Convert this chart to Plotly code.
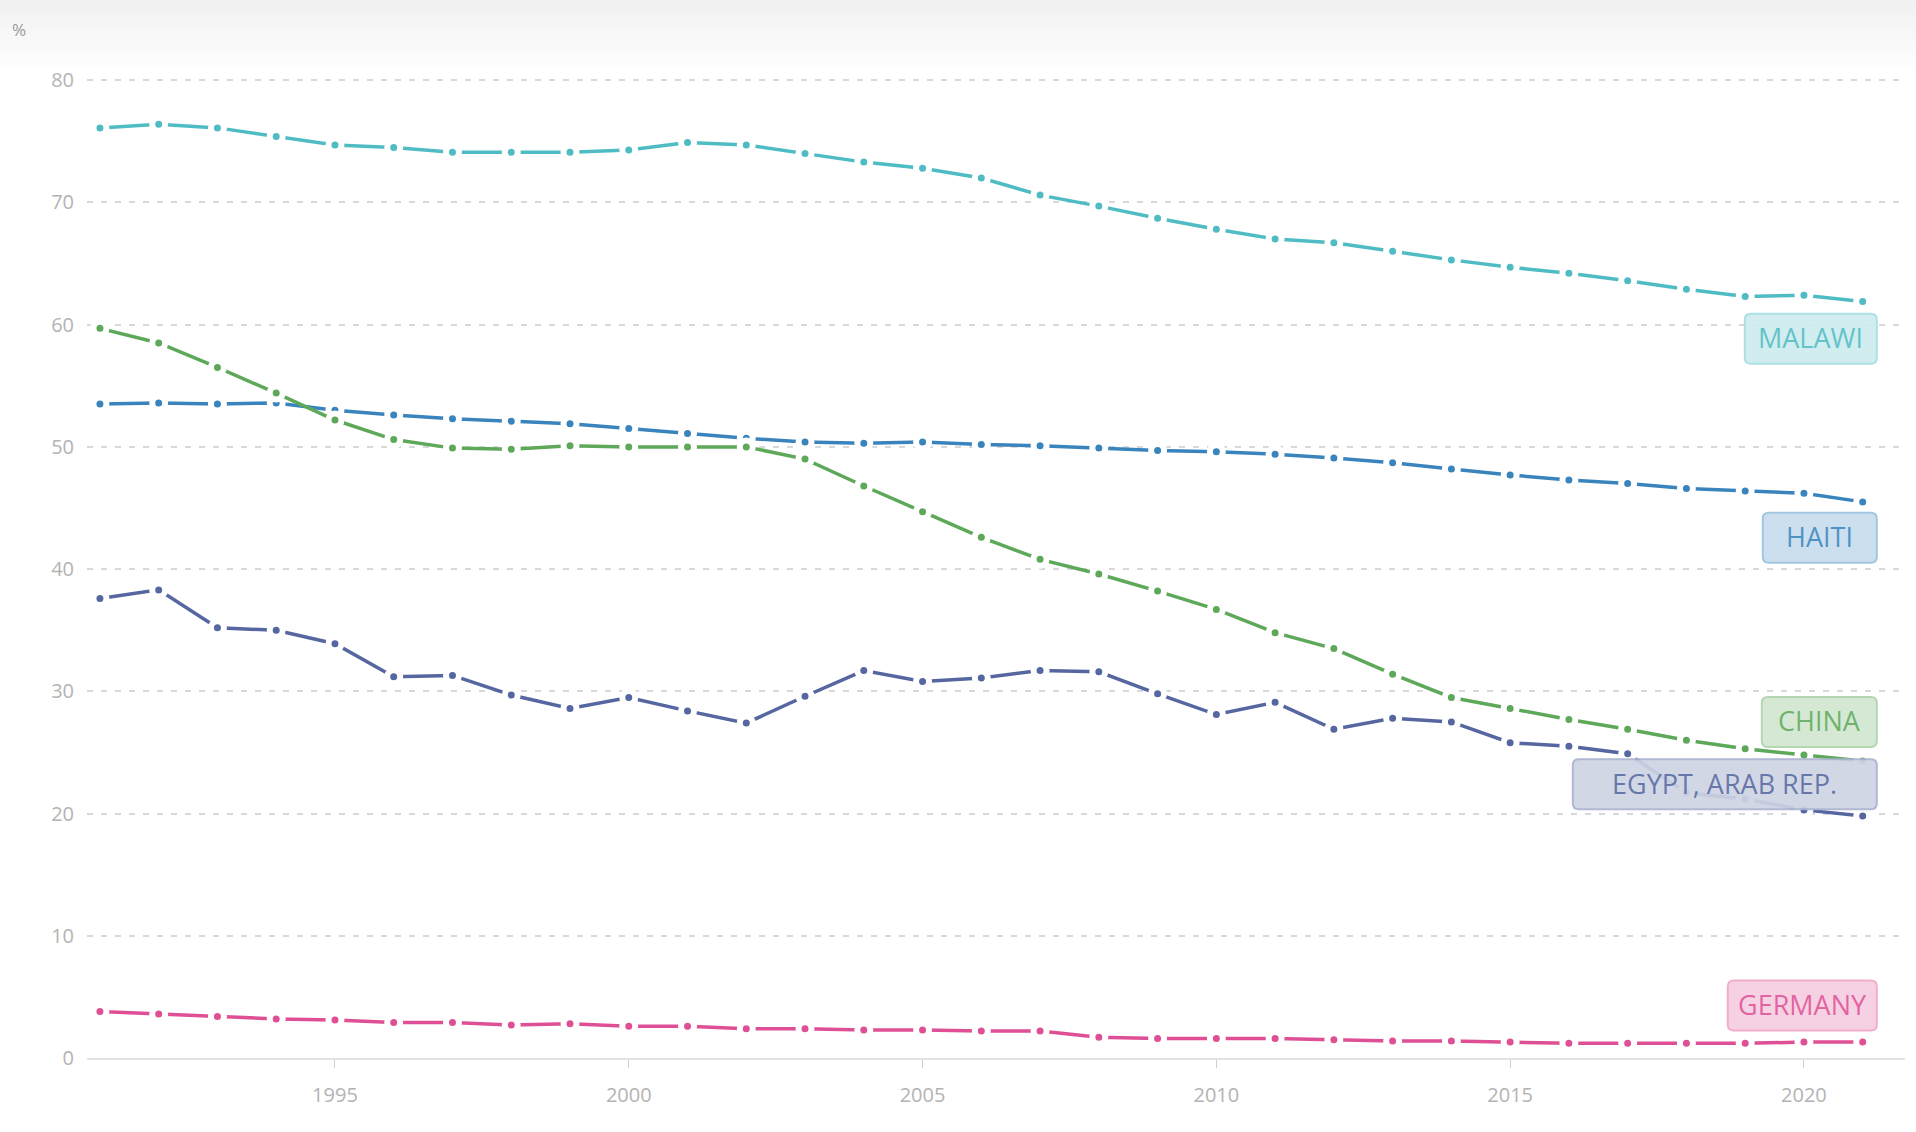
import plotly.graph_objects as go

years = list(range(1991, 2022))

malawi = [76.1, 76.4, 76.1, 75.4, 74.7, 74.5, 74.1, 74.1, 74.1, 74.3, 74.9, 74.7, 74.0, 73.3, 72.8,
          72.0, 70.6, 69.7, 68.7, 67.8, 67.0, 66.7, 66.0, 65.3, 64.7, 64.2, 63.6, 62.9, 62.3, 62.4, 61.9]
haiti = [53.5, 53.6, 53.5, 53.6, 53.0, 52.6, 52.3, 52.1, 51.9, 51.5, 51.1, 50.7, 50.4, 50.3, 50.4,
         50.2, 50.1, 49.9, 49.7, 49.6, 49.4, 49.1, 48.7, 48.2, 47.7, 47.3, 47.0, 46.6, 46.4, 46.2, 45.5]
china = [59.7, 58.5, 56.5, 54.4, 52.2, 50.6, 49.9, 49.8, 50.1, 50.0, 50.0, 50.0, 49.0, 46.8, 44.7,
         42.6, 40.8, 39.6, 38.2, 36.7, 34.8, 33.5, 31.4, 29.5, 28.6, 27.7, 26.9, 26.0, 25.3, 24.8, 24.3]
egypt = [37.6, 38.3, 35.2, 35.0, 33.9, 31.2, 31.3, 29.7, 28.6, 29.5, 28.4, 27.4, 29.6, 31.7, 30.8,
         31.1, 31.7, 31.6, 29.8, 28.1, 29.1, 26.9, 27.8, 27.5, 25.8, 25.5, 24.9, 21.7, 21.2, 20.3, 19.8]
germany = [3.8, 3.6, 3.4, 3.2, 3.1, 2.9, 2.9, 2.7, 2.8, 2.6, 2.6, 2.4, 2.4, 2.3, 2.3,
           2.2, 2.2, 1.7, 1.6, 1.6, 1.6, 1.5, 1.4, 1.4, 1.3, 1.2, 1.2, 1.2, 1.2, 1.3, 1.3]

series_names = ["MALAWI", "HAITI", "CHINA", "EGYPT, ARAB REP.", "GERMANY"]
series_values = [malawi, haiti, china, egypt, germany]
series_colors = [(79, 188, 196), (58, 132, 190), (94, 168, 90), (85, 102, 160), (223, 79, 149)]
label_y = [58.85, 42.57, 27.5, 22.4, 4.3]
label_box_w = [132, 114, 115, 304, 149]   # label box widths in pixels

x_ticks = [1995, 2000, 2005, 2010, 2015, 2020]
y_ticks = [0, 10, 20, 30, 40, 50, 60, 70, 80]

FONT = "Open Sans"
LABEL_RIGHT = 2021.24
BOX_H = 50
RADIUS = 6

fig = go.Figure()


def rgba(c, a):
    return f"rgba({c[0]},{c[1]},{c[2]},{a})"


def tint(c, a):
    return "rgb(%d,%d,%d)" % tuple(round(255 - (255 - v) * a) for v in c)


def rounded_rect(w, h, r):
    # pixel path relative to anchor (right edge, vertical centre)
    x0, x1 = -w, 0
    y0, y1 = -h / 2, h / 2
    return (f"M{x0 + r},{y0} L{x1 - r},{y0} Q{x1},{y0} {x1},{y0 + r} "
            f"L{x1},{y1 - r} Q{x1},{y1} {x1 - r},{y1} L{x0 + r},{y1} "
            f"Q{x0},{y1} {x0},{y1 - r} L{x0},{y0 + r} Q{x0},{y0} {x0 + r},{y0} Z")


for name, vals, col in zip(series_names, series_values, series_colors):
    fig.add_trace(go.Scatter(
        x=years, y=vals, name=name, mode="lines+markers",
        line=dict(color=rgba(col, 1), width=3.5),
        marker=dict(size=13, color=rgba(col, 1), line=dict(color="white", width=6)),
        showlegend=False, hoverinfo="skip",
    ))

shapes = []
# soft gray header band (gradient approximation)
n = 14
for i in range(n):
    bot_px = 70 * (n - i) / n
    shapes.append(dict(
        type="rect", xref="paper", yref="paper",
        x0=-0.1, x1=1.1, y0=(1058 - bot_px) / 990.2, y1=1.2,
        fillcolor="rgba(0,0,0,0.0042)", line=dict(width=0), layer="below",
    ))

for name, ly, col, bw in zip(series_names, label_y, series_colors, label_box_w):
    shapes.append(dict(
        type="path", xref="x", yref="y", xsizemode="pixel", ysizemode="pixel",
        xanchor=LABEL_RIGHT, yanchor=ly, path=rounded_rect(bw, BOX_H, RADIUS),
        fillcolor=tint(col, 0.28), opacity=0.92,
        line=dict(color=tint(col, 0.5), width=2), layer="above",
    ))
    fig.add_annotation(
        x=LABEL_RIGHT, y=ly, xref="x", yref="y", xanchor="center", yanchor="middle",
        xshift=-bw / 2, yshift=1, text=name, showarrow=False,
        font=dict(family=FONT, size=27, color=rgba(col, 0.85)),
    )

# "%" unit label
fig.add_annotation(
    x=-0.0424, y=1.0386, xref="paper", yref="paper", xanchor="left", yanchor="middle",
    text="%", showarrow=False, font=dict(family=FONT, size=17, color="#9a9a9a"),
)

# plot area: y=80 at px 80, y=0 at px 1058 -> 12.225 px per unit; top extended to 81
fig.update_layout(
    shapes=shapes,
    width=1916, height=1132,
    margin=dict(l=87, r=11, t=67.8, b=74),
    paper_bgcolor="white", plot_bgcolor="white",
    font=dict(family=FONT),
    xaxis=dict(
        range=[1990.78, 2021.72], tickvals=x_ticks, ticktext=[str(t) for t in x_ticks],
        showgrid=False, zeroline=False, showline=True, linecolor="#dfe3e3", linewidth=1.5,
        ticks="outside", ticklen=8, tickcolor="#cfcfcf", tickwidth=1,
        ticklabelstandoff=10,
        tickfont=dict(family=FONT, size=20, color="#b3b3b3"),
    ),
    yaxis=dict(
        range=[0, 81], tickvals=y_ticks, ticktext=[str(t) for t in y_ticks],
        showgrid=True, gridcolor="#d8d8d8", gridwidth=1.5, griddash="6px,8px",
        zeroline=False, showline=False,
        ticks="outside", ticklen=8, tickcolor="rgba(0,0,0,0)",
        tickfont=dict(family=FONT, size=20, color="#b3b3b3"),
    ),
)

fig.write_html(
    "out.html",
    config={"displayModeBar": False},
    post_script="document.body.style.margin='0px';document.body.style.overflow='hidden';"
                "document.documentElement.style.overflow='hidden';",
)
